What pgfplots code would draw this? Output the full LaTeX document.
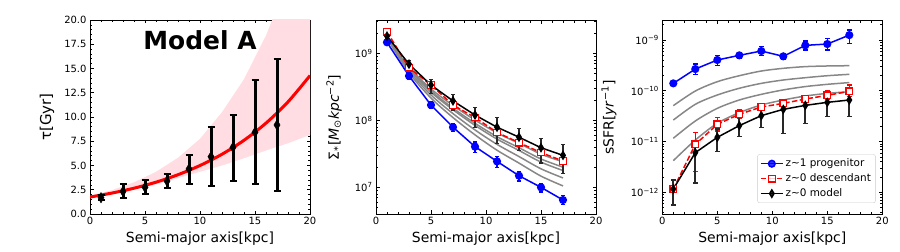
\documentclass[border=0pt]{standalone}
\usepackage{fontspec}
\setmainfont{DejaVu Sans}
\usepackage{pgfplots}
\usepackage{pgfplotstable}
\pgfplotsset{compat=1.18}
\definecolor{mpink}{RGB}{255,221,226}
\definecolor{mgray}{RGB}{135,135,135}
\definecolor{ebk}{RGB}{40,40,40}

\pgfplotstableread{
x y ep em
1 1.68 0.25 0.25
3 2.32 0.74 0.70
5 2.75 0.72 0.66
7 3.40 0.69 0.75
9 4.64 1.41 1.58
11 5.91 3.03 2.99
13 6.87 3.33 3.43
15 8.42 5.36 5.36
17 9.18 6.80 6.80
}\tauobs

\pgfplotstableread{
x y ep em
1 1.46e9 0.10e9 0.10e9
3 4.6e8 0.5e8 0.5e8
5 1.69e8 0.2e8 0.2e8
7 7.9e7 1.1e7 1.1e7
9 4.05e7 0.7e7 0.7e7
11 2.44e7 0.45e7 0.45e7
13 1.49e7 0.25e7 0.25e7
15 1.0e7 0.15e7 0.15e7
17 6.47e6 1.0e6 1.0e6
}\msblue

\pgfplotstableread{
x y
1 2.1e9
3 6.1e8
5 3.36e8
7 1.69e8
9 1.1e8
11 6.6e7
13 4.65e7
15 3.3e7
17 2.47e7
}\msred

\pgfplotstableread{
x y ep em
1 1.81e9 0.16e9 0.17e9
3 6.9e8 1.0e8 0.93e8
5 3.36e8 0.74e8 0.83e8
7 1.95e8 0.49e8 0.52e8
9 1.2e8 0.36e8 0.42e8
11 7.9e7 3.2e7 3.4e7
13 5.6e7 2.0e7 2.1e7
15 3.9e7 1.5e7 1.6e7
17 3.0e7 1.3e7 1.4e7
}\msblack

\pgfplotstableread{
x y ep em
1 1.4e-10 0.15e-10 0.15e-10
3 2.68e-10 0.7e-10 0.55e-10
5 4.04e-10 1.0e-10 0.9e-10
7 4.99e-10 0.7e-10 0.6e-10
9 6.07e-10 1.3e-10 1.2e-10
11 4.77e-10 0.6e-10 0.6e-10
13 7.85e-10 1.7e-10 1.5e-10
15 8.33e-10 2.5e-10 2.0e-10
17 1.25e-9 3.3e-10 3.9e-10
}\sfblue

\pgfplotstableread{
x y ep em
1 1.16e-12 0.53e-12 0.6e-12
3 8.8e-12 6.4e-12 6.25e-12
5 2.18e-11 0.8e-11 0.57e-11
7 3.44e-11 0.74e-11 0.58e-11
9 4.79e-11 0.7e-11 0.7e-11
11 5.65e-11 0.9e-11 0.9e-11
13 6.88e-11 1.0e-11 1.0e-11
15 8.13e-11 1.8e-11 1.5e-11
17 9.75e-11 3.3e-11 2.1e-11
}\sfred

\pgfplotstableread{
x y ep em
1 1.16e-12 0.6e-12 0.6e-12
3 6.04e-12 3.9e-12 4.5e-12
5 1.21e-11 0.56e-11 0.58e-11
7 2.06e-11 1.03e-11 0.81e-11
9 3.24e-11 1.62e-11 1.36e-11
11 4.31e-11 1.59e-11 2.86e-11
13 5.16e-11 1.42e-11 2.87e-11
15 5.92e-11 2.08e-11 2.83e-11
17 6.58e-11 2.02e-11 3.49e-11
}\sfblack

\pgfplotsset{
  common/.style={
    scale only axis, width=220bp,
    xmin=0, xmax=20, xtick={0,5,10,15,20}, minor x tick num=4,
    tick align=inside, major tick length=3.5bp, minor tick length=2bp,
    every tick/.style={black, line width=0.6bp},
    axis line style={line width=0.8bp},
    ticklabel style={font=\fontsize{10}{12}\selectfont},
    label style={font=\fontsize{14}{16}\selectfont},
    /pgf/number format/assume math mode=true,
    xlabel={Semi-major axis[kpc]},
    legend image code/.code={\draw[mark repeat=2,mark phase=2] plot coordinates {(0bp,0bp) (11bp,0bp) (22bp,0bp)};},
  }
}

\begin{document}
\begin{tikzpicture}
\path (0,0) rectangle (900bp,252bp);

% ---------------- left panel
\begin{axis}[common, at={(90bp,38bp)}, anchor=south west, height=194bp,
  ymin=0, ymax=20, ytick={0,2.5,5,7.5,10,12.5,15,17.5,20}, minor y tick num=4,
  yticklabel style={/pgf/number format/.cd, fixed, fixed zerofill, precision=1}]
\addplot[fill=mpink, draw=none, forget plot] coordinates {
 (0,1.85) (2,2.46) (4,3.27) (6,4.35) (8,5.8) (10,7.75) (12,10.5) (14,13.9) (16,18.4) (18,24.1) (20,32.0)
 (20,8.15) (18,7.3) (16,6.55) (14,5.75) (12,5.0) (10,4.35) (8,3.7) (6,3.05) (4,2.5) (2,2.05) (0,1.65)};
\addplot[red, line width=3bp, smooth] coordinates {
 (0,1.75) (2,2.16) (4,2.66) (6,3.28) (8,4.05) (10,5.00) (12,6.16) (14,7.60) (16,9.37) (18,11.56) (20,14.27)};
\addplot[only marks, black, mark=diamond*, mark size=5.2bp, mark options={xscale=0.8, black},
  error bars/.cd, y dir=both, y explicit,
  error bar style={line width=3bp, black},
  error mark options={rotate=90, line width=2bp, mark size=3.5bp, black}]
  table[x=x, y=y, y error plus=ep, y error minus=em] {\tauobs};
\node[font=\fontsize{25}{30}\selectfont\bfseries] at (axis cs:10,17.9) {Model A};
\end{axis}
\node[rotate=90, font=\fontsize{15}{17}\selectfont] at (47bp,135bp) {τ[Gyr]};

% ---------------- middle panel
\begin{axis}[common, at={(376bp,38bp)}, anchor=south west, height=193.3bp,
  ymode=log, ymin=4e6, ymax=3.07e9,
  ytick={1e7,1e8,1e9}, yticklabels={10\textsuperscript{7},10\textsuperscript{8},10\textsuperscript{9}},
  minor ytick={5e6,6e6,7e6,8e6,9e6,2e7,3e7,4e7,5e7,6e7,7e7,8e7,9e7,2e8,3e8,4e8,5e8,6e8,7e8,8e8,9e8,2e9,3e9}]
\addplot[mgray, line width=1.5bp, smooth] coordinates {(1,1.69e9) (3,6.22e8) (5,2.94e8) (7,1.67e8) (9,1.01e8) (11,6.50e7) (13,4.53e7) (15,3.13e7) (17,2.40e7)};
\addplot[mgray, line width=1.5bp, smooth] coordinates {(1,1.69e9) (3,5.96e8) (5,2.75e8) (7,1.52e8) (9,9.04e7) (11,5.70e7) (13,3.90e7) (15,2.65e7) (17,2.00e7)};
\addplot[mgray, line width=1.5bp, smooth] coordinates {(1,1.69e9) (3,5.81e8) (5,2.63e8) (7,1.44e8) (9,8.41e7) (11,5.25e7) (13,3.55e7) (15,2.38e7) (17,1.78e7)};
\addplot[mgray, line width=1.5bp, smooth] coordinates {(1,1.69e9) (3,5.47e8) (5,2.39e8) (7,1.26e8) (9,7.19e7) (11,4.38e7) (13,2.88e7) (15,1.89e7) (17,1.38e7)};
\addplot[mgray, line width=1.5bp, smooth] coordinates {(1,1.69e9) (3,5.13e8) (5,2.15e8) (7,1.10e8) (9,6.07e7) (11,3.58e7) (13,2.30e7) (15,1.47e7) (17,1.05e7)};
\addplot[blue, line width=1.5bp, mark=*, mark size=3.3bp, mark options={solid, fill=blue, draw=blue},
  error bars/.cd, y dir=both, y explicit,
  error bar style={line width=1.2bp, blue, solid},
  error mark options={rotate=90, line width=1.2bp, mark size=2bp, blue, solid}]
  table[x=x, y=y, y error plus=ep, y error minus=em] {\msblue};
\addplot[red, line width=1.5bp, dash pattern=on 5.5bp off 2.4bp, mark=square*, mark size=3.3bp, mark options={solid, fill=white, draw=red, line width=1.2bp}]
  table[x=x, y=y] {\msred};
\addplot[black, line width=1.5bp, mark=diamond*, mark size=3.6bp, mark options={solid, xscale=0.8, fill=black},
  error bars/.cd, y dir=both, y explicit,
  error bar style={line width=1.2bp, ebk, solid},
  error mark options={rotate=90, line width=1.2bp, mark size=2bp, ebk, solid}]
  table[x=x, y=y, y error plus=ep, y error minus=em] {\msblack};
\end{axis}
\node[rotate=90, font=\fontsize{14}{16}\selectfont] at (334bp,134.6bp) {Σ\textsubscript{*}[\textit{M}\textsubscript{⊙}\textit{kpc}\textsuperscript{−2}]};

% ---------------- right panel
\begin{axis}[common, at={(662.3bp,38bp)}, anchor=south west, height=193.3bp,
  ymode=log, ymin=3.74e-13, ymax=2.4e-9,
  ytick={1e-12,1e-11,1e-10,1e-9},
  yticklabels={10\textsuperscript{−12},10\textsuperscript{−11},10\textsuperscript{−10},10\textsuperscript{−9}},
  minor ytick={4e-13,5e-13,6e-13,7e-13,8e-13,9e-13,2e-12,3e-12,4e-12,5e-12,6e-12,7e-12,8e-12,9e-12,2e-11,3e-11,4e-11,5e-11,6e-11,7e-11,8e-11,9e-11,2e-10,3e-10,4e-10,5e-10,6e-10,7e-10,8e-10,9e-10,2e-9},
  legend style={at={(0.9696,0.057)}, anchor=south east, font=\fontsize{10.5}{12.5}\selectfont,
    draw=black!20, rounded corners=2bp, fill=white, fill opacity=0.8, text opacity=1,
    row sep=1.5bp, inner sep=2.5bp},
  legend cell align=left]
\addplot[mgray, line width=1.5bp, smooth, forget plot] coordinates {(1,5.09e-11) (3,9.89e-11) (5,1.51e-10) (7,1.98e-10) (9,2.45e-10) (11,2.77e-10) (13,2.99e-10) (15,3.08e-10) (17,3.12e-10)};
\addplot[mgray, line width=1.5bp, smooth, forget plot] coordinates {(1,2.65e-11) (3,5.41e-11) (5,8.26e-11) (7,1.12e-10) (9,1.40e-10) (11,1.63e-10) (13,1.81e-10) (15,1.98e-10) (17,2.11e-10)};
\addplot[mgray, line width=1.5bp, smooth, forget plot] coordinates {(1,1.16e-11) (3,2.54e-11) (5,4.51e-11) (7,6.58e-11) (9,8.51e-11) (11,1.04e-10) (13,1.21e-10) (15,1.34e-10) (17,1.45e-10)};
\addplot[mgray, line width=1.5bp, smooth, forget plot] coordinates {(1,4.20e-12) (3,1.07e-11) (5,2.29e-11) (7,3.71e-11) (9,5.25e-11) (11,6.58e-11) (13,7.89e-11) (15,8.89e-11) (17,9.59e-11)};
\addplot[blue, line width=1.5bp, mark=*, mark size=3.3bp, mark options={solid, fill=blue, draw=blue},
  error bars/.cd, y dir=both, y explicit,
  error bar style={line width=1.2bp, blue, solid},
  error mark options={rotate=90, line width=1.2bp, mark size=2.3bp, blue, solid}]
  table[x=x, y=y, y error plus=ep, y error minus=em] {\sfblue};
\addlegendentry{z\textasciitilde 1 progenitor}
\addplot[red, line width=1.5bp, dash pattern=on 5.5bp off 2.4bp, mark=square*, mark size=3.3bp, mark options={solid, fill=white, draw=red, line width=1.2bp},
  error bars/.cd, y dir=both, y explicit,
  error bar style={line width=1.2bp, red, solid},
  error mark options={rotate=90, line width=1.2bp, mark size=2.3bp, red, solid}]
  table[x=x, y=y, y error plus=ep, y error minus=em] {\sfred};
\addlegendentry{z\textasciitilde 0 descendant}
\addplot[black, line width=1.5bp, mark=diamond*, mark size=3.6bp, mark options={solid, xscale=0.8, fill=black},
  error bars/.cd, y dir=both, y explicit,
  error bar style={line width=2.2bp, ebk, solid},
  error mark options={rotate=90, line width=1.5bp, mark size=2.3bp, ebk, solid}]
  table[x=x, y=y, y error plus=ep, y error minus=em] {\sfblack};
\addlegendentry{z\textasciitilde 0 model}
\end{axis}
\node[rotate=90, font=\fontsize{14}{16}\selectfont] at (609bp,134.6bp) {sSFR[\textit{yr}\textsuperscript{−1}]};
\end{tikzpicture}
\end{document}
